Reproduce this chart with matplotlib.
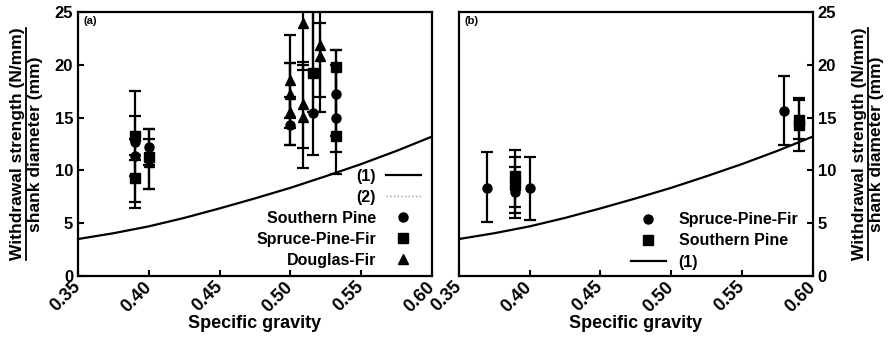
import matplotlib
matplotlib.use("Agg")
import matplotlib.pyplot as plt
from matplotlib.lines import Line2D
import numpy as np

plt.rcParams["font.family"] = ["Liberation Sans", "DejaVu Sans"]
plt.rcParams["font.weight"] = "bold"
plt.rcParams["axes.labelweight"] = "bold"

# curve (1)
curve_g = [0.35, 0.375, 0.40, 0.425, 0.45, 0.475, 0.50, 0.525, 0.55, 0.575, 0.60]
curve_w = [3.5, 4.05, 4.7, 5.5, 6.4, 7.35, 8.35, 9.45, 10.6, 11.85, 13.2]

# panel (a): x, mean, lower end, upper end of error bar
a_sp_x = [0.39, 0.39, 0.40, 0.50, 0.516, 0.532, 0.532]
a_sp_y = [12.7, 11.4, 12.2, 14.3, 15.4, 17.2, 15.0]
a_sp_lo = [6.4, 9.5, 10.5, 12.4, 11.5, 13.3, 9.7]
a_sp_hi = [17.5, 13.0, 13.9, 20.2, 27.0, 21.4, 20.0]

a_spf_x = [0.39, 0.39, 0.40, 0.516, 0.532, 0.532]
a_spf_y = [13.3, 9.3, 11.3, 19.2, 19.8, 13.3]
a_spf_lo = [11.0, 7.0, 8.2, 15.5, 13.3, 11.7]
a_spf_hi = [15.2, 11.5, 13.9, 27.0, 21.4, 20.0]

a_df_x = [0.40, 0.50, 0.50, 0.50, 0.509, 0.509, 0.509, 0.521, 0.521]
a_df_y = [10.8, 18.6, 17.2, 15.5, 24.0, 16.3, 15.1, 21.9, 20.8]
a_df_lo = [8.2, 15.0, 12.4, 14.0, 19.5, 12.1, 10.2, 15.5, 17.0]
a_df_hi = [13.0, 22.8, 20.2, 17.0, 27.0, 20.3, 20.0, 27.0, 24.0]

# panel (b)
b_spf_x = [0.37, 0.39, 0.40, 0.58]
b_spf_y = [8.3, 8.0, 8.3, 15.6]
b_spf_lo = [5.1, 5.5, 5.3, 12.4]
b_spf_hi = [11.7, 10.3, 11.3, 18.9]

b_sp_x = [0.39, 0.39, 0.59, 0.59]
b_sp_y = [9.5, 8.6, 14.8, 14.3]
b_sp_lo = [6.5, 6.0, 13.0, 11.8]
b_sp_hi = [11.9, 11.3, 16.9, 16.7]

xticks = [0.35, 0.40, 0.45, 0.50, 0.55, 0.60]
yticks = [0, 5, 10, 15, 20, 25]
ylab = "Withdrawal strength (N/mm)\nshank diameter (mm)"


def draw_series(ax, x, y, lo, hi, marker):
    y = np.array(y)
    err = [y - np.array(lo), np.array(hi) - y]
    ax.errorbar(x, y, yerr=err, fmt=marker, color="black", ms=6.5,
                capsize=4.5, elinewidth=1.6, capthick=1.6)


def style_axes(ax):
    ax.set_xlim(0.35, 0.60)
    ax.set_ylim(0, 25)
    ax.set_xticks(xticks)
    ax.set_xticklabels(["%.2f" % t for t in xticks], rotation=45,
                       ha="right", va="center", rotation_mode="anchor",
                       fontsize=13)
    ax.set_yticks(yticks)
    ax.tick_params(direction="in", length=4, width=1.5, labelsize=12)
    ax.tick_params(axis="x", pad=6)
    for lbl in ax.get_xticklabels():
        lbl.set_fontsize(13)
    for s in ax.spines.values():
        s.set_linewidth(1.6)
    ax.set_xlabel("Specific gravity", fontsize=13, labelpad=0)
    ax.plot(curve_g, curve_w, color="black", lw=1.6)


fig = plt.figure(figsize=(8.96, 3.45), dpi=100)
ax1 = fig.add_axes([0.087, 0.2, 0.395, 0.765])
ax2 = fig.add_axes([0.512, 0.2, 0.395, 0.765])

# (a)
style_axes(ax1)
draw_series(ax1, a_sp_x, a_sp_y, a_sp_lo, a_sp_hi, "o")
draw_series(ax1, a_spf_x, a_spf_y, a_spf_lo, a_spf_hi, "s")
draw_series(ax1, a_df_x, a_df_y, a_df_lo, a_df_hi, "^")
ax1.set_ylabel(ylab, fontsize=12.5)
ax1.yaxis.set_label_coords(-0.1, 0.5)
ax1.text(0.015, 0.985, "(a)", transform=ax1.transAxes, fontsize=8,
         va="top", ha="left")
h_a = [Line2D([], [], color="black", lw=1.6),
       Line2D([], [], color="0.6", lw=1, ls=":"),
       Line2D([], [], color="black", marker="o", ls="", ms=6.5),
       Line2D([], [], color="black", marker="s", ls="", ms=6.5),
       Line2D([], [], color="black", marker="^", ls="", ms=6.5)]
ax1.legend(h_a, ["(1)", "(2)", "Southern Pine", "Spruce-Pine-Fir", "Douglas-Fir"],
           loc="lower right", bbox_to_anchor=(1.0, -0.012), markerfirst=False,
           frameon=False, fontsize=11.5, labelspacing=0.38,
           handlelength=2.2, handletextpad=0.6, borderaxespad=0.3)

# (b)
style_axes(ax2)
draw_series(ax2, b_spf_x, b_spf_y, b_spf_lo, b_spf_hi, "o")
draw_series(ax2, b_sp_x, b_sp_y, b_sp_lo, b_sp_hi, "s")
ax2.yaxis.tick_right()
ax2.yaxis.set_label_position("right")
ax2.set_ylabel(ylab, fontsize=12.5)
ax2.yaxis.set_label_coords(1.11, 0.5)
ax2.text(0.015, 0.985, "(b)", transform=ax2.transAxes, fontsize=8,
         va="top", ha="left")
h_b = [Line2D([], [], color="black", marker="o", ls="", ms=6.5),
       Line2D([], [], color="black", marker="s", ls="", ms=6.5),
       Line2D([], [], color="black", lw=1.6)]
ax2.legend(h_b, ["Spruce-Pine-Fir", "Southern Pine", "(1)"],
           loc="lower right", bbox_to_anchor=(1.0, -0.03),
           frameon=False, fontsize=11.5, labelspacing=0.38,
           handlelength=2.2, handletextpad=0.8)

# underline the numerator of the y labels
fig.canvas.draw()
renderer = fig.canvas.get_renderer()
inv = fig.transFigure.inverted()
for ax in (ax1, ax2):
    bb = ax.yaxis.label.get_window_extent(renderer)
    (x0, y0), (x1, y1) = inv.transform([[bb.x0, bb.y0], [bb.x1, bb.y1]])
    xc = (x0 + x1) / 2
    fig.add_artist(Line2D([xc, xc], [y0, y1], color="black", lw=1.3,
                          transform=fig.transFigure))

fig.savefig("out.png", dpi=100)
